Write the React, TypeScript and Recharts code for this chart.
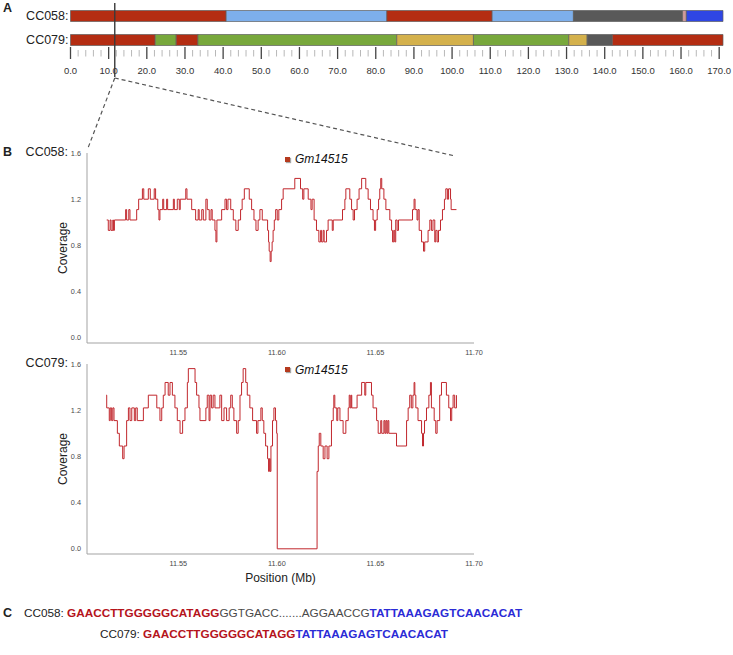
import React from "react";
import { BarChart, Bar, Cell, XAxis, YAxis, LineChart, Line, Legend } from "recharts";

const FONT = "'Liberation Sans', Arial, Helvetica, sans-serif";

// ---- panel A: haplotype blocks along the chromosome (Mb) ----
const RED = "#b42d12";
const BLUE = "#7dafeb";
const GRAY = "#595959";
const PINK = "#cf9b9b";
const DKBLUE = "#2f46e4";
const GREEN = "#78a83c";
const GOLD = "#d4b14c";

const chrStrains = ["CC058:", "CC079:"];
const cc058BlockLengths = [40.8, 42.1, 27.6, 21.3, 28.6, 1.0, 9.6];
const cc058BlockColors = [RED, BLUE, RED, BLUE, GRAY, PINK, DKBLUE];
const cc079BlockLengths = [22.2, 5.5, 5.7, 52.1, 20.1, 25.0, 4.8, 6.6, 29.0];
const cc079BlockColors = [RED, GREEN, RED, GREEN, GOLD, GREEN, GOLD, GRAY, RED];
const CHR_LEN = 171;
const chrTicks = Array.from({ length: 86 }, (_, i) => i * 2);
const ZOOM_AT = 11.6;

// ---- panel B: normalized read coverage (Mb) ----
const zoomTicks = [11.55, 11.6, 11.65, 11.7];
const covTicks = [0, 0.4, 0.8, 1.2, 1.6];

const cc058Pos = [
  11.5137, 11.5145, 11.5154, 11.5159, 11.5168, 11.5171, 11.5176, 11.5233, 11.5238, 11.5249,
  11.5255, 11.5289, 11.5299, 11.5318, 11.5325, 11.5348, 11.5358, 11.5378, 11.5385, 11.5396,
  11.5402, 11.5407, 11.5421, 11.5426, 11.5441, 11.5446, 11.5475, 11.548, 11.5495, 11.5505,
  11.551, 11.5538, 11.5544, 11.5568, 11.5588, 11.5601, 11.5606, 11.5619, 11.5627, 11.564,
  11.5647, 11.5657, 11.5666, 11.5672, 11.5686, 11.5691, 11.5696, 11.572, 11.5737, 11.5745,
  11.5752, 11.5766, 11.5779, 11.5792, 11.5804, 11.5816, 11.5824, 11.5835, 11.586, 11.5872,
  11.5884, 11.5894, 11.5905, 11.5914, 11.5926, 11.5953, 11.5958, 11.5961, 11.5966, 11.5971,
  11.5976, 11.5981, 11.5987, 11.5994, 11.6002, 11.601, 11.6024, 11.6032, 11.6091, 11.612,
  11.6131, 11.6137, 11.6159, 11.6173, 11.6179, 11.6189, 11.6201, 11.6213, 11.6222, 11.6227,
  11.6235, 11.624, 11.6252, 11.626, 11.6281, 11.6286, 11.6333, 11.6345, 11.635, 11.637,
  11.6379, 11.6387, 11.6394, 11.6407, 11.6417, 11.643, 11.6451, 11.6463, 11.6475, 11.6488,
  11.6495, 11.6501, 11.6509, 11.6516, 11.6522, 11.6527, 11.6532, 11.6543, 11.6553, 11.6573,
  11.6582, 11.6587, 11.6593, 11.6598, 11.6603, 11.661, 11.6617, 11.6688, 11.6696, 11.6701,
  11.6711, 11.6716, 11.6722, 11.6734, 11.6744, 11.675, 11.6767, 11.6776, 11.6784, 11.6792,
  11.6801, 11.6806, 11.6813, 11.682, 11.683, 11.684, 11.685, 11.6857, 11.6865, 11.6871,
  11.6881, 11.6884, 11.6911,
];
const cc058Cov = [
  1.02, 0.93, 1.02, 0.93, 1.02, 0.93, 1.02, 1.11, 1.02, 1.11,
  1.02, 1.11, 1.2, 1.29, 1.2, 1.29, 1.2, 1.29, 1.2, 1.11,
  1.02, 1.11, 1.2, 1.11, 1.2, 1.11, 1.2, 1.11, 1.2, 1.11,
  1.2, 1.29, 1.2, 1.11, 1.02, 1.11, 1.02, 1.11, 1.02, 1.2,
  1.11, 1.02, 1.11, 1.02, 0.93, 0.83, 1.02, 1.11, 1.2, 1.11,
  1.2, 1.11, 1.02, 0.93, 1.02, 1.11, 1.2, 1.29, 1.2, 1.11,
  1.02, 0.93, 1.02, 1.11, 1.02, 0.93, 0.83, 0.75, 0.66, 0.75,
  0.83, 0.93, 1.02, 1.11, 1.02, 1.11, 1.2, 1.29, 1.38, 1.29,
  1.2, 1.29, 1.2, 1.11, 1.2, 1.02, 0.93, 0.83, 0.93, 0.83,
  0.93, 0.83, 0.93, 1.02, 0.93, 1.02, 1.11, 1.2, 1.29, 1.2,
  1.11, 1.02, 1.11, 1.2, 1.29, 1.38, 1.29, 1.2, 1.11, 1.02,
  0.93, 1.02, 1.11, 1.2, 1.29, 1.38, 1.29, 1.2, 1.11, 1.02,
  0.93, 0.83, 0.93, 0.83, 1.02, 0.93, 1.02, 1.11, 1.2, 1.11,
  1.02, 1.11, 0.93, 0.83, 0.75, 0.83, 0.93, 1.02, 0.93, 1.02,
  0.83, 0.93, 0.83, 0.93, 1.02, 1.11, 1.2, 1.29, 1.2, 1.29,
  1.2, 1.11, 1.11,
];

const cc079Pos = [
  11.5134, 11.5137, 11.515, 11.5155, 11.5162, 11.5168, 11.5174, 11.5191, 11.5201, 11.5218,
  11.5225, 11.5238, 11.5247, 11.5255, 11.5264, 11.5277, 11.5284, 11.5292, 11.5323, 11.5348,
  11.5391, 11.5407, 11.5416, 11.5424, 11.5433, 11.5449, 11.5458, 11.547, 11.5483, 11.5495,
  11.5509, 11.5522, 11.5534, 11.5546, 11.5551, 11.5585, 11.5593, 11.5605, 11.561, 11.564,
  11.5647, 11.5656, 11.5661, 11.5669, 11.5677, 11.5686, 11.5711, 11.572, 11.5732, 11.5745,
  11.5758, 11.5766, 11.5774, 11.5782, 11.5796, 11.5804, 11.5813, 11.5821, 11.5829, 11.5842,
  11.585, 11.5863, 11.5877, 11.5897, 11.5904, 11.5919, 11.5926, 11.5934, 11.5943, 11.5953,
  11.5958, 11.5962, 11.5966, 11.597, 11.5978, 11.5985, 11.5993, 11.5999, 11.6002, 11.6204,
  11.621, 11.6215, 11.6223, 11.6235, 11.6244, 11.6255, 11.6264, 11.6277, 11.6286, 11.6289,
  11.6294, 11.6304, 11.6309, 11.632, 11.6336, 11.635, 11.6362, 11.6367, 11.6372, 11.6377,
  11.638, 11.6407, 11.643, 11.6446, 11.6451, 11.648, 11.6488, 11.6506, 11.6514, 11.6527,
  11.6532, 11.6543, 11.6548, 11.6553, 11.6558, 11.6563, 11.6568, 11.6607, 11.6658, 11.6666,
  11.6674, 11.6682, 11.669, 11.6696, 11.67, 11.6705, 11.6716, 11.6734, 11.6739, 11.6744,
  11.6749, 11.6759, 11.6771, 11.6779, 11.6784, 11.6798, 11.6806, 11.6813, 11.6826, 11.6835,
  11.686, 11.6872, 11.6881, 11.6887, 11.6894, 11.6902, 11.6911,
];
const cc079Cov = [
  1.33, 1.22, 1.11, 1.22, 1.11, 1.22, 1.11, 1.0, 0.89, 0.78,
  0.89, 1.11, 1.22, 1.11, 1.22, 1.11, 1.22, 1.11, 1.22, 1.33,
  1.22, 1.11, 1.22, 1.33, 1.44, 1.33, 1.44, 1.33, 1.22, 1.11,
  1.0, 1.11, 1.22, 1.44, 1.56, 1.44, 1.33, 1.22, 1.11, 1.22,
  1.33, 1.11, 1.33, 1.22, 1.33, 1.22, 1.33, 1.11, 1.22, 1.11,
  1.22, 1.33, 1.22, 1.11, 1.0, 1.11, 1.33, 1.44, 1.56, 1.44,
  1.33, 1.22, 1.11, 1.0, 1.11, 1.22, 1.11, 1.0, 0.89, 0.78,
  0.67, 0.78, 0.67, 0.89, 1.11, 1.22, 1.11, 1.0, 0.0, 0.67,
  0.89, 1.0, 0.89, 0.78, 0.89, 0.78, 0.89, 1.11, 1.22, 1.33,
  1.22, 1.11, 1.22, 1.11, 1.0, 1.11, 1.22, 1.33, 1.22, 1.33,
  1.22, 1.33, 1.44, 1.33, 1.44, 1.33, 1.22, 1.11, 1.0, 1.11,
  1.0, 1.11, 1.0, 1.11, 1.0, 1.11, 1.0, 0.89, 1.11, 1.22,
  1.33, 1.22, 1.33, 1.44, 1.33, 1.22, 1.11, 1.0, 0.89, 1.0,
  1.11, 1.22, 1.33, 1.44, 1.22, 1.11, 1.0, 1.11, 1.33, 1.44,
  1.33, 1.22, 1.11, 1.22, 1.33, 1.22, 1.33,
];

const geneName = "Gm14515";

// panel A geometry (plot left/right in px) - used for the zoom guide lines
const A_LEFT = 70.5;
const A_RIGHT = 723;
const zoomX = A_LEFT + (ZOOM_AT / CHR_LEN) * (A_RIGHT - A_LEFT);

const ChrTick = ({ x, y, payload }: any) => {
  const v = payload.value;
  const major = v % 10 === 0;
  return (
    <g>
      <line
        x1={x}
        x2={x}
        y1={major ? y - 4.5 : y - 1.5}
        y2={major ? y + 7.5 : y + 5}
        stroke={major ? "#444" : "#b8b8b8"}
        strokeWidth={major ? 1.3 : 1}
      />
      {major && (
        <text x={x} y={y + 22.5} textAnchor="middle" fontSize={9.5} fill="#333" fontFamily={FONT}>
          {v.toFixed(1)}
        </text>
      )}
    </g>
  );
};

const coverageLabel = (props: any) => {
  const vb = props?.viewBox || { x: 57, y: 13, width: 30, height: 190 };
  const cx = vb.x + 6;
  const cy = vb.y + vb.height / 2;
  return (
    <text
      x={cx}
      y={cy}
      transform={`rotate(-90, ${cx}, ${cy})`}
      textAnchor="middle"
      dominantBaseline="central"
      fontSize={12}
      fill="#222"
      fontFamily={FONT}
    >
      Coverage
    </text>
  );
};

const GeneLegend = (props: any) => {
  const name = props?.payload?.[0]?.value ?? geneName;
  return (
    <div style={{ display: "flex", alignItems: "center", fontFamily: FONT }}>
      <span
        style={{
          display: "inline-block",
          width: 5,
          height: 5,
          background: "#b53a1e",
          boxShadow: "1px 1px 1px rgba(0,0,0,0.35)",
          marginRight: 5,
        }}
      />
      <span style={{ fontStyle: "italic", fontSize: 12, color: "#111", lineHeight: "14px" }}>{name}</span>
    </div>
  );
};

const CoverageChart = ({ pos, cov, showXLabel }: { pos: number[]; cov: number[]; showXLabel: boolean }) => {
  const data = pos.map((p, i) => ({ pos: p, cov: cov[i] }));
  return (
    <LineChart width={490} height={showXLabel ? 239 : 223} data={data} margin={{ top: 13, right: 16, bottom: 0, left: 57 }}>
      <XAxis
        dataKey="pos"
        type="number"
        domain={[11.5037, 11.7]}
        allowDataOverflow
        ticks={zoomTicks}
        tickFormatter={(v) => Number(v).toFixed(2)}
        tick={{ fontSize: 7.3, fill: "#4a4a4a", fontFamily: FONT }}
        tickLine={false}
        tickSize={0}
        tickMargin={7}
        axisLine={{ stroke: "#a3a3a3" }}
        height={showXLabel ? 36 : 20}
        label={
          showXLabel
            ? { value: "Position (Mb)", position: "insideBottom", offset: 8, fill: "#222", fontSize: 12, fontFamily: FONT }
            : undefined
        }
      />
      <YAxis
        type="number"
        domain={[-0.045, 1.6]}
        allowDataOverflow
        ticks={covTicks}
        tickFormatter={(v) => Number(v).toFixed(1)}
        tick={{ fontSize: 7.3, fill: "#4a4a4a", fontFamily: FONT }}
        tickLine={false}
        tickSize={0}
        tickMargin={6}
        axisLine={{ stroke: "#a3a3a3" }}
        width={30}
        label={coverageLabel}
      />
      <Legend
        layout="horizontal"
        verticalAlign="middle"
        align="center"
        content={GeneLegend}
        wrapperStyle={{ top: 12, left: 285, width: 90, height: 14 }}
      />
      <Line
        name={geneName}
        dataKey="cov"
        type="stepAfter"
        stroke="#c1272d"
        strokeWidth={1}
        dot={false}
        isAnimationActive={false}
      />
    </LineChart>
  );
};

const labelStyle: React.CSSProperties = {
  position: "absolute",
  fontFamily: FONT,
  color: "#222",
  whiteSpace: "nowrap",
};

const App: React.FC = () => {
  const lengths = [cc058BlockLengths, cc079BlockLengths];
  const colors = [cc058BlockColors, cc079BlockColors];
  const nBlocks = Math.max(...lengths.map((l) => l.length));
  const chrRows = chrStrains.map((strain, r) => {
    const row: Record<string, number | string> = { strain };
    for (let i = 0; i < nBlocks; i++) row[`b${i}`] = lengths[r][i] ?? 0;
    return row;
  });

  return (
    <div style={{ position: "absolute", left: 0, top: 0, width: 733, height: 655, background: "#fff", overflow: "hidden" }}>
      {/* panel letters */}
      <div style={{ ...labelStyle, left: 3, top: 0, fontSize: 12.5, fontWeight: "bold", lineHeight: "16px" }}>A</div>
      <div style={{ ...labelStyle, left: 3, top: 144, fontSize: 12.5, fontWeight: "bold", lineHeight: "16px" }}>B</div>
      <div style={{ ...labelStyle, left: 3, top: 605, fontSize: 12.5, fontWeight: "bold", lineHeight: "16px" }}>C</div>

      {/* panel A */}
      <div style={{ position: "absolute", left: 0, top: 0 }}>
        <BarChart
          width={733}
          height={82}
          data={chrRows}
          layout="vertical"
          margin={{ top: 3.5, right: 733 - A_RIGHT, bottom: 0.5, left: 0 }}
        >
          <XAxis
            type="number"
            domain={[0, CHR_LEN]}
            ticks={chrTicks}
            interval={0}
            tick={ChrTick}
            tickLine={false}
            tickSize={0}
            tickMargin={0}
            axisLine={false}
            height={30}
          />
          <YAxis
            type="category"
            dataKey="strain"
            width={A_LEFT}
            tickLine={false}
            axisLine={false}
            tickSize={0}
            tickMargin={2}
            tick={{ fontSize: 12.5, fill: "#222", fontFamily: FONT }}
          />
          {Array.from({ length: nBlocks }, (_, i) => (
            <Bar
              key={i}
              dataKey={`b${i}`}
              stackId="chr"
              barSize={11}
              stroke="#5f5f5f"
              strokeWidth={0.7}
              isAnimationActive={false}
            >
              {chrRows.map((_, r) => (
                <Cell key={r} fill={colors[r][i] ?? "#fff"} />
              ))}
            </Bar>
          ))}
        </BarChart>
      </div>

      {/* panel B */}
      <div style={{ ...labelStyle, left: 0, width: 68, textAlign: "right", top: 144, fontSize: 12.5, lineHeight: "16px" }}>
        CC058:
      </div>
      <div style={{ position: "absolute", left: 0, top: 140.3 }}>
        <CoverageChart pos={cc058Pos} cov={cc058Cov} showXLabel={false} />
      </div>
      <div style={{ ...labelStyle, left: 0, width: 68, textAlign: "right", top: 355, fontSize: 12.5, lineHeight: "16px" }}>
        CC079:
      </div>
      <div style={{ position: "absolute", left: 0, top: 350.5 }}>
        <CoverageChart pos={cc079Pos} cov={cc079Cov} showXLabel={true} />
      </div>

      {/* panel C */}
      <div style={{ ...labelStyle, left: 24, top: 606, fontSize: 11.75, lineHeight: "14px" }}>
        <span>CC058: </span>
        <span style={{ color: "#b5141c", fontWeight: "bold" }}>GAACCTTGGGGGCATAGG</span>
        <span style={{ color: "#4a4a4a" }}>GGTGACC.......AGGAACCG</span>
        <span style={{ color: "#2b2bd6", fontWeight: "bold" }}>TATTAAAGAGTCAACACAT</span>
      </div>
      <div style={{ ...labelStyle, left: 100, top: 627, fontSize: 11.75, lineHeight: "14px" }}>
        <span>CC079: </span>
        <span style={{ color: "#b5141c", fontWeight: "bold" }}>GAACCTTGGGGGCATAGG</span>
        <span style={{ color: "#2b2bd6", fontWeight: "bold" }}>TATTAAAGAGTCAACACAT</span>
      </div>

      {/* zoom guide lines */}
      <svg width={733} height={655} style={{ position: "absolute", left: 0, top: 0, pointerEvents: "none" }}>
        <line x1={zoomX} x2={zoomX} y1={3} y2={77} stroke="#3a3a3a" strokeWidth={1.4} />
        <line x1={zoomX} y1={78} x2={88} y2={148} stroke="#555" strokeWidth={1.2} strokeDasharray="4 3" />
        <line x1={zoomX} y1={78} x2={455} y2={156} stroke="#555" strokeWidth={1.2} strokeDasharray="4 3" />
      </svg>
    </div>
  );
};

export default App;
